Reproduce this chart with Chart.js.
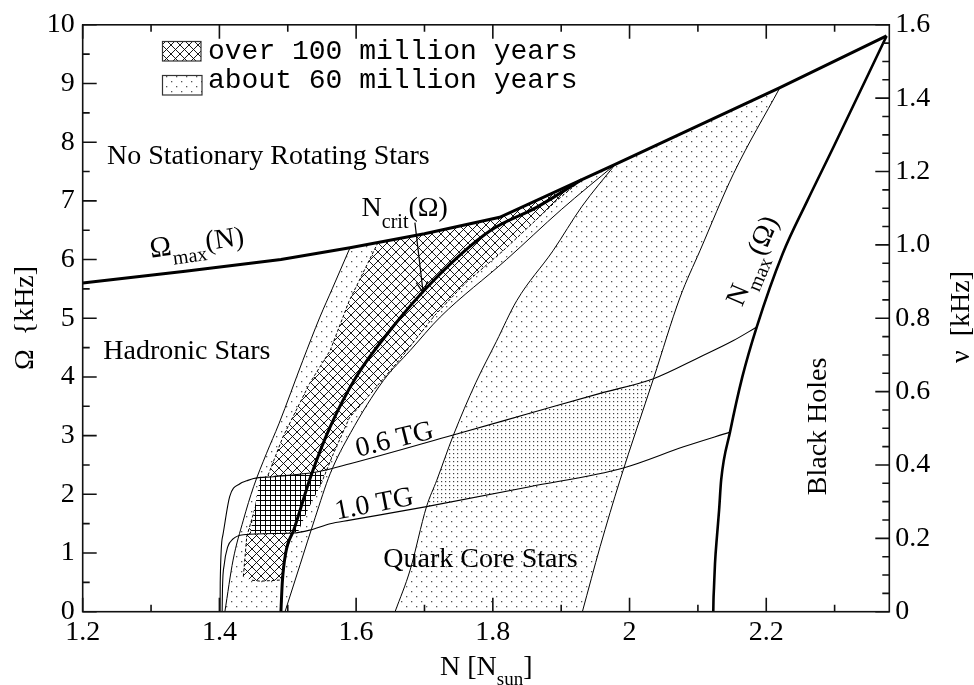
<!DOCTYPE html>
<html>
<head>
<meta charset="utf-8">
<script src="https://cdn.jsdelivr.net/npm/chart.js@4.4.1/dist/chart.umd.min.js"></script>
<style>
html,body{margin:0;padding:0;background:#fff;}
#wrap{position:relative;width:974px;height:685px;}
</style>
</head>
<body>
<div id="wrap"><canvas id="chart"></canvas></div>
<script>
// ---------- ticks ----------
const xMajorTicks = [1.2, 1.4, 1.6, 1.8, 2.0, 2.2];
const xTickLabels = ['1.2', '1.4', '1.6', '1.8', '2', '2.2'];
const xMinorTicks = [1.3, 1.5, 1.7, 1.9, 2.1, 2.3];
const omegaTicks = [0, 1, 2, 3, 4, 5, 6, 7, 8, 9, 10];
const omegaTickLabels = ['0', '1', '2', '3', '4', '5', '6', '7', '8', '9', '10'];
const omegaMinorTicks = [0.5, 1.5, 2.5, 3.5, 4.5, 5.5, 6.5, 7.5, 8.5, 9.5];
const nuTicks = [0, 0.2, 0.4, 0.6, 0.8, 1.0, 1.2, 1.4, 1.6];
const nuTickLabels = ['0', '0.2', '0.4', '0.6', '0.8', '1.0', '1.2', '1.4', '1.6'];
const nuMinorTicks = [0.05, 0.1, 0.15, 0.25, 0.3, 0.35, 0.45, 0.5, 0.55, 0.65, 0.7, 0.75, 0.85, 0.9, 0.95, 1.05, 1.1, 1.15, 1.25, 1.3, 1.35, 1.45, 1.5, 1.55];

// ---------- curves: [N (N_sun), Omega (kHz)] ----------
const omegaMax = [[1.2,5.60],[1.35,5.80],[1.49,6.0],[1.591,6.2],[1.7,6.44],[1.81,6.72],[1.9,7.2],[1.979,7.62],[2.22,8.93],[2.376,9.81]];
const nMax = [[2.1225,0],[2.1228,0.2],[2.1235,0.4],[2.125,0.82],[2.128,1.3],[2.131,1.73],[2.134,2.24],[2.147,3.06],[2.165,4.0],[2.186,4.85],[2.224,6.1],[2.26,7.0],[2.298,7.91],[2.376,9.81]];
const nCrit = [[1.49,0],[1.492,0.5],[1.497,1.0],[1.509,1.4],[1.535,2.35],[1.562,3.15],[1.6,4.0],[1.65,4.8],[1.713,5.64],[1.796,6.49],[1.864,6.89],[1.93,7.36]];
const band60Left = [[1.408,0],[1.42,0.88],[1.435,1.56],[1.45,2.13],[1.469,2.7],[1.487,3.2],[1.522,4.28],[1.547,5.02],[1.565,5.5],[1.591,6.2]];
const band60Right = [[1.496,0],[1.518,0.8],[1.54,1.6],[1.562,2.35],[1.592,3.05],[1.64,3.94],[1.679,4.45],[1.723,5.02],[1.82,6.0],[1.9,6.85],[1.979,7.62]];
const band100Left = [[1.435,0.6],[1.44,1.28],[1.454,1.84],[1.474,2.41],[1.493,2.98],[1.532,3.89],[1.562,4.45],[1.59,5.3],[1.632,6.29]];
const band100Right = [[1.49,0.54],[1.497,1.0],[1.512,1.56],[1.547,2.13],[1.567,2.7],[1.59,3.3],[1.62,3.7],[1.664,4.3],[1.715,5.05],[1.76,5.6],[1.815,6.15],[1.893,7.0],[1.93,7.36]];
const band100Bottom = [[1.46,0.52],[1.445,0.54]];
const quarkLeft = [[1.657,0],[1.679,0.71],[1.703,1.79],[1.718,2.24],[1.742,3.0],[1.775,3.9],[1.805,4.6],[1.835,5.3],[1.888,6.15],[1.93,6.9],[1.979,7.62]];
const quarkRight = [[1.931,0],[1.957,1.11],[1.986,2.24],[2.035,3.97],[2.074,5.36],[2.103,6.15],[2.152,7.46],[2.22,8.93]];
const tg06 = [[1.401,0],[1.4012,0.5],[1.405,1.3],[1.415,1.96],[1.43,2.18],[1.44,2.23],[1.45,2.27],[1.479,2.3],[1.542,2.38],[1.591,2.52],[1.742,3.01],[1.854,3.38],[1.957,3.72],[2.035,3.97],[2.103,4.34],[2.152,4.62],[2.186,4.85]];
const tg10 = [[1.404,0],[1.4045,0.4],[1.407,0.8],[1.412,1.1],[1.42,1.24],[1.435,1.31],[1.508,1.34],[1.532,1.39],[1.562,1.5],[1.591,1.56],[1.703,1.79],[1.854,2.13],[1.991,2.45],[2.079,2.81],[2.147,3.06]];
const overlap100 = [[1.445,1.33],[1.452,1.8],[1.46,2.3],[1.5,2.33],[1.555,2.39],[1.547,2.13],[1.53,1.75],[1.515,1.36]];
const overlapQuark = [[1.703,1.79],[1.718,2.24],[1.742,3.0],[1.854,3.38],[1.957,3.72],[2.035,3.97],[2.012,3.2],[1.991,2.45],[1.854,2.13]];
const nCritArrow = [[1.686,6.63],[1.698,5.44]];
const omegaMaxTop = [[1.7,6.44],[1.81,6.72],[1.9,7.2]];

// ---------- regions built from the boundaries ----------
const band60Region = [...band60Left, ...omegaMaxTop, ...band60Right.slice().reverse()];
const band100Region = [...band100Left, ...omegaMaxTop, ...band100Right.slice().reverse(), ...band100Bottom];
const quarkRegion = [...quarkLeft, ...quarkRight.slice().reverse()];

// ---------- patterns ----------
function makePattern(w, h, draw) {
  const c = document.createElement('canvas'); c.width = w; c.height = h;
  const g = c.getContext('2d'); draw(g);
  return g.createPattern(c, 'repeat');
}
const sparseDots = makePattern(10, 10, g => {
  g.fillStyle = '#555'; g.fillRect(1, 1, 1.3, 1.3); g.fillRect(6, 6, 1.3, 1.3);
});
const denseDots = makePattern(4, 4, g => {
  g.fillStyle = '#fff'; g.fillRect(0, 0, 4, 4);
  g.fillStyle = '#444'; g.fillRect(1, 1, 1.2, 1.2);
});
const crossHatch = makePattern(9, 9, g => {
  g.fillStyle = '#fff'; g.fillRect(0, 0, 9, 9);
  g.strokeStyle = '#000'; g.lineWidth = 0.9;
  g.beginPath(); g.moveTo(-1, -1); g.lineTo(10, 10); g.moveTo(-1, 10); g.lineTo(10, -1); g.stroke();
});
const squareGrid = makePattern(5, 5, g => {
  g.fillStyle = '#fff'; g.fillRect(0, 0, 5, 5);
  g.fillStyle = '#000'; g.fillRect(0, 0, 5, 1); g.fillRect(0, 0, 1, 5);
});

const pts = a => a.map(p => ({x: p[0], y: p[1]}));
function curve(label, arr, width, order, extra) {
  return Object.assign({label, data: pts(arr), borderColor: '#000', borderWidth: width, pointRadius: 0, pointHoverRadius: 0,
    fill: false, cubicInterpolationMode: 'monotone', order, xAxisID: 'x', yAxisID: 'y'}, extra || {});
}
function region(label, arr, pattern, order, extra) {
  return Object.assign({label, data: pts(arr), borderColor: 'rgba(0,0,0,0)', borderWidth: 0, backgroundColor: pattern,
    fill: 'shape', tension: 0, pointRadius: 0, pointHoverRadius: 0, order, xAxisID: 'x', yAxisID: 'y'}, extra || {});
}

const datasets = [
  curve('Ω_max(N)', omegaMax, 3, 0, {cubicInterpolationMode: 'default', tension: 0}),
  curve('N_max(Ω)', nMax, 2.6, 0),
  curve('N_crit(Ω)', nCrit, 3, 0),
  curve('arrow', nCritArrow, 1.2, 1, {cubicInterpolationMode: 'default', tension: 0}),
  curve('band 60 left', band60Left, 1, 2),
  curve('band 60 right', band60Right, 1, 2),
  curve('quark left', quarkLeft, 1, 2),
  curve('quark right', quarkRight, 1, 2),
  curve('0.6 TG', tg06, 1.1, 2),
  curve('1.0 TG', tg10, 1.1, 2),
  region('overlap 100', overlap100, squareGrid, 3),
  region('overlap quark', overlapQuark, denseDots, 3),
  region('over 100 million years', band100Region, crossHatch, 4, {borderColor: '#000', borderWidth: 1, borderDash: [3, 2]}),
  region('about 60 million years', band60Region, sparseDots, 5),
  region('quark', quarkRegion, sparseDots, 5)
];

const SERIF = '"Liberation Serif", "Times New Roman", serif';
function rich(ctx, x, y, angle, parts, align) {
  ctx.save();
  ctx.translate(x, y); ctx.rotate(angle * Math.PI / 180);
  ctx.textBaseline = 'alphabetic'; ctx.textAlign = 'left'; ctx.fillStyle = '#000';
  let total = 0;
  for (const p of parts) { ctx.font = p.size + 'px ' + (p.family || SERIF); total += ctx.measureText(p.t).width; }
  let cx = align === 'center' ? -total / 2 : 0;
  for (const p of parts) {
    ctx.font = p.size + 'px ' + (p.family || SERIF);
    ctx.fillText(p.t, cx, p.dy || 0);
    cx += ctx.measureText(p.t).width;
  }
  ctx.restore();
}

const overlay = {
  id: 'overlay',
  afterDraw(chart) {
    const {ctx, chartArea: a, scales} = chart;
    const X = v => scales.x.getPixelForValue(v);
    const Y = v => scales.y.getPixelForValue(v);
    const V = v => scales.y2.getPixelForValue(v);
    ctx.save();
    // frame and inward ticks
    ctx.strokeStyle = '#111'; ctx.lineWidth = 1.6;
    ctx.strokeRect(a.left, a.top, a.right - a.left, a.bottom - a.top);
    ctx.beginPath();
    const tick = (x1, y1, x2, y2) => { ctx.moveTo(x1, y1); ctx.lineTo(x2, y2); };
    xMajorTicks.forEach(v => { tick(X(v), a.bottom, X(v), a.bottom - 14); tick(X(v), a.top, X(v), a.top + 14); });
    xMinorTicks.forEach(v => { tick(X(v), a.bottom, X(v), a.bottom - 7); tick(X(v), a.top, X(v), a.top + 7); });
    omegaTicks.forEach(v => tick(a.left, Y(v), a.left + 14, Y(v)));
    omegaMinorTicks.forEach(v => tick(a.left, Y(v), a.left + 7, Y(v)));
    nuTicks.forEach(v => tick(a.right, V(v), a.right - 14, V(v)));
    nuMinorTicks.forEach(v => tick(a.right, V(v), a.right - 7, V(v)));
    ctx.stroke();

    // arrow head
    const tx = X(nCritArrow[1][0]), ty = Y(nCritArrow[1][1]);
    const sx = X(nCritArrow[0][0]), sy = Y(nCritArrow[0][1]);
    const ang = Math.atan2(ty - sy, tx - sx);
    ctx.lineWidth = 1.2; ctx.strokeStyle = '#000';
    ctx.beginPath();
    ctx.moveTo(tx - 12 * Math.cos(ang - 0.5), ty - 12 * Math.sin(ang - 0.5));
    ctx.lineTo(tx, ty);
    ctx.lineTo(tx - 12 * Math.cos(ang + 0.5), ty - 12 * Math.sin(ang + 0.5));
    ctx.stroke();

    // region labels
    rich(ctx, X(1.2355), Y(7.635), 0, [{t: 'No Stationary Rotating Stars', size: 28}]);
    rich(ctx, X(1.2999), Y(6.03), -8, [{t: 'Ω', size: 29}, {t: 'max', size: 20, dy: 10}, {t: '(N)', size: 28}]);
    rich(ctx, X(1.608), Y(6.748), 0, [{t: 'N', size: 28}, {t: 'crit', size: 20, dy: 12}, {t: '(Ω)', size: 28}]);
    rich(ctx, X(1.2301), Y(4.312), 0, [{t: 'Hadronic Stars', size: 28}]);
    rich(ctx, X(2.1645), Y(5.185), -67, [{t: 'N', size: 28}, {t: 'max', size: 20, dy: 10}, {t: '(Ω)', size: 28}]);
    rich(ctx, X(1.6027), Y(2.637), -14, [{t: '0.6 TG', size: 28}]);
    rich(ctx, X(1.5716), Y(1.572), -11, [{t: '1.0 TG', size: 28}]);
    rich(ctx, X(1.6397), Y(0.755), 0, [{t: 'Quark Core Stars', size: 28}]);
    rich(ctx, X(2.2873), Y(1.985), -90, [{t: 'Black Holes', size: 28}]);

    // axis titles
    rich(ctx, 33, 318, -90, [{t: 'Ω  {kHz]', size: 28}], 'center');
    rich(ctx, 969, 317, -90, [{t: 'ν  [kHz]', size: 28}], 'center');
    rich(ctx, 440, 675, 0, [{t: 'N [N', size: 28}, {t: 'sun', size: 19, dy: 10}, {t: ']', size: 28}]);

    // legend
    const MONO = '"Liberation Mono", "Courier New", monospace';
    ctx.fillStyle = crossHatch; ctx.fillRect(162.5, 41.5, 38.5, 19.5);
    ctx.fillStyle = sparseDots; ctx.fillRect(162.5, 75.5, 39.5, 19.5);
    ctx.strokeStyle = '#333'; ctx.lineWidth = 1.2;
    ctx.strokeRect(162.5, 41.5, 38.5, 19.5);
    ctx.strokeRect(162.5, 75.5, 39.5, 19.5);
    rich(ctx, 208, 58.5, 0, [{t: 'over 100 million years', size: 28, family: MONO}]);
    rich(ctx, 208, 87.5, 0, [{t: 'about 60 million years', size: 28, family: MONO}]);
    ctx.restore();
  }
};

const tickFont = {family: 'Liberation Serif', size: 28};
new Chart(document.getElementById('chart'), {
  type: 'line',
  data: {datasets},
  plugins: [overlay],
  options: {
    responsive: true, maintainAspectRatio: false, animation: false, devicePixelRatio: 1,
    events: [],
    layout: {padding: {top: 24, left: 0, right: 0, bottom: 0}},
    plugins: {legend: {display: false}, tooltip: {enabled: false}},
    scales: {
      x: {
        type: 'linear', position: 'bottom', min: 1.2, max: 2.38,
        grid: {display: false, drawTicks: false}, border: {display: false},
        afterBuildTicks: s => { s.ticks = xMajorTicks.map(v => ({value: v})); },
        afterFit: s => { s.height = 73.3; },
        ticks: {autoSkip: false, maxRotation: 0, minRotation: 0, padding: 4, color: '#000', font: tickFont,
          callback: (v, i) => xTickLabels[i]}
      },
      y: {
        type: 'linear', position: 'left', min: 0, max: 10,
        grid: {display: false, drawTicks: false}, border: {display: false},
        afterBuildTicks: s => { s.ticks = omegaTicks.map(v => ({value: v})); },
        afterFit: s => { s.width = 82.7; },
        ticks: {autoSkip: false, padding: 8, color: '#000', font: tickFont, callback: (v, i) => omegaTickLabels[i]}
      },
      y2: {
        type: 'linear', position: 'right', min: 0, max: 1.6,
        grid: {display: false, drawTicks: false}, border: {display: false},
        afterBuildTicks: s => { s.ticks = nuTicks.map(v => ({value: v})); },
        afterFit: s => { s.width = 84.7; },
        ticks: {autoSkip: false, padding: 6, color: '#000', font: tickFont, callback: (v, i) => nuTickLabels[i]}
      }
    }
  }
});
</script>
</body>
</html>
